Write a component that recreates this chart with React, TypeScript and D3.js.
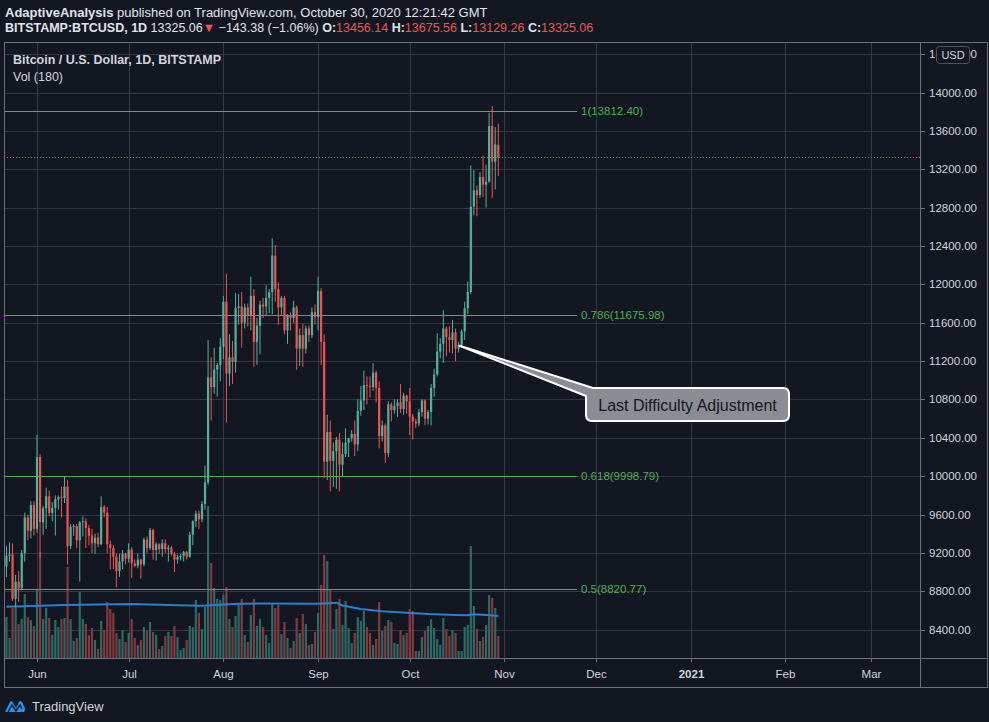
import React from "react";
import * as d3 from "d3";

// ---------- DATA ----------
const startDate = "2020-05-22"; // first daily candle
// [open, high, low, close]
const ohlc: [number, number, number, number][] = [
  [9060, 9270, 8950, 9170], [9170, 9310, 9110, 9185], [9185, 9300, 8700, 8720], [8720, 8970, 8630, 8900],
  [8900, 9010, 8690, 8830], [8830, 9230, 8810, 9200], [9200, 9620, 9110, 9570], [9570, 9600, 9330, 9430],
  [9430, 9740, 9350, 9700], [9700, 9740, 9380, 9450],
  // Jun
  [9450, 10430, 9410, 10200], [10200, 10230, 9150, 9520], [9520, 9690, 9390, 9665], [9665, 9880, 9450, 9790],
  [9790, 9850, 9580, 9615], [9615, 9730, 9530, 9670], [9670, 9800, 9380, 9760], [9760, 9800, 9650, 9780],
  [9780, 9890, 9570, 9770], [9770, 10000, 9720, 9890], [9890, 9960, 9080, 9270], [9270, 9500, 9240, 9470],
  [9470, 9500, 9380, 9480], [9480, 9500, 9250, 9330], [9330, 9530, 8900, 9520], [9520, 9580, 9370, 9530],
  [9530, 9560, 9250, 9460], [9460, 9490, 9280, 9380], [9380, 9450, 9200, 9300], [9300, 9400, 9190, 9360],
  [9360, 9410, 9260, 9290], [9290, 9790, 9280, 9680], [9680, 9700, 9570, 9620], [9620, 9680, 9200, 9290],
  [9290, 9330, 9030, 9250], [9250, 9280, 9030, 9160], [9160, 9190, 8840, 9010], [9010, 9190, 8950, 9110],
  [9110, 9230, 9030, 9190], [9190, 9200, 9080, 9140],
  // Jul
  [9140, 9300, 9100, 9235], [9235, 9260, 8940, 9090], [9090, 9130, 9050, 9065], [9065, 9190, 9040, 9130],
  [9130, 9140, 8930, 9080], [9080, 9360, 9060, 9340], [9340, 9370, 9200, 9250], [9250, 9460, 9230, 9440],
  [9440, 9450, 9130, 9230], [9230, 9310, 9120, 9290], [9290, 9300, 9190, 9240], [9240, 9340, 9160, 9300],
  [9300, 9340, 9200, 9240], [9240, 9280, 9110, 9255], [9255, 9270, 9170, 9190], [9190, 9210, 9000, 9130],
  [9130, 9180, 9090, 9155], [9155, 9190, 9120, 9170], [9170, 9220, 9110, 9210], [9210, 9220, 9130, 9160],
  [9160, 9420, 9150, 9390], [9390, 9540, 9280, 9530], [9530, 9640, 9470, 9610], [9610, 9640, 9450, 9550],
  [9550, 9740, 9520, 9710], [9710, 10110, 9650, 9935], [9935, 11420, 9910, 11030], [11030, 11240, 10580, 10930],
  [10930, 11340, 10860, 11110], [11110, 11180, 10830, 11160], [11160, 11440, 10990, 11350],
  // Aug
  [11350, 11880, 11220, 11820], [11820, 12110, 10560, 11070], [11070, 11480, 10940, 11240], [11240, 11410, 10960, 11190],
  [11190, 11910, 11080, 11755], [11755, 11900, 11580, 11770], [11770, 11920, 11340, 11600], [11600, 11800, 11540, 11760],
  [11760, 11800, 11560, 11680], [11680, 12080, 11520, 11880], [11880, 11950, 11140, 11400], [11400, 11650, 11160, 11570],
  [11570, 11830, 11270, 11790], [11790, 11860, 11650, 11770], [11770, 11990, 11670, 11860], [11860, 11950, 11700, 11920],
  [11920, 12480, 11690, 12300], [12300, 12410, 11820, 11950], [11950, 12020, 11580, 11760], [11760, 11880, 11680, 11860],
  [11860, 11880, 11480, 11520], [11520, 11690, 11380, 11680], [11680, 11710, 11520, 11650], [11650, 11830, 11600, 11760],
  [11760, 11780, 11110, 11330], [11330, 11540, 11150, 11470], [11470, 11590, 11140, 11330], [11330, 11570, 11280, 11540],
  [11540, 11570, 11400, 11470], [11470, 11760, 11440, 11710], [11710, 11790, 11580, 11660],
  // Sep
  [11660, 12080, 11520, 11930], [11930, 11960, 11160, 11400], [11400, 11480, 9980, 10150], [10150, 10640, 9960, 10460],
  [10460, 10580, 9840, 10160], [10160, 10350, 9890, 10260], [10260, 10410, 9870, 10380], [10380, 10450, 9840, 10120],
  [10120, 10350, 10000, 10230], [10230, 10500, 10200, 10350], [10350, 10400, 10200, 10395], [10395, 10480, 10360, 10440],
  [10440, 10580, 10210, 10330], [10330, 10800, 10260, 10680], [10680, 10940, 10630, 10790], [10790, 11100, 10690, 10950],
  [10950, 11040, 10750, 10940], [10940, 11040, 10820, 10930], [10930, 11180, 10890, 11080], [11080, 11100, 10770, 10920],
  [10920, 10990, 10290, 10420], [10420, 10580, 10360, 10530], [10530, 10550, 10140, 10240], [10240, 10780, 10200, 10750],
  [10750, 10770, 10570, 10690], [10690, 10800, 10650, 10730], [10730, 10800, 10620, 10770], [10770, 10960, 10660, 10700],
  [10700, 10870, 10640, 10840], [10840, 10850, 10650, 10780],
  // Oct
  [10780, 10920, 10430, 10620], [10620, 10650, 10380, 10570], [10570, 10600, 10500, 10550], [10550, 10700, 10520, 10670],
  [10670, 10800, 10620, 10790], [10790, 10800, 10530, 10600], [10600, 10690, 10540, 10670], [10670, 10960, 10530, 10920],
  [10920, 11120, 10830, 11060], [11060, 11490, 11040, 11300], [11300, 11440, 11230, 11380], [11380, 11730, 11180, 11540],
  [11540, 11560, 11250, 11450], [11450, 11560, 11290, 11420], [11420, 11630, 11280, 11500], [11500, 11540, 11200, 11330],
  [11330, 11400, 11290, 11370], [11370, 11530, 11340, 11510], [11510, 11820, 11420, 11750], [11750, 12030, 11690, 11920],
  [11920, 13240, 11900, 12810], [12810, 13190, 12720, 12980], [12980, 13030, 12710, 12930], [12930, 13170, 12900, 13120],
  [13120, 13340, 12910, 13040], [13040, 13250, 12800, 13070], [13070, 13790, 13060, 13650], [13650, 13860, 12900, 13280],
  [13280, 13640, 12990, 13460], [13456.14, 13675.56, 13129.26, 13325.06],
];
// daily volume (BTC)
const volumes: number[] = [
  4100, 2000, 5000, 5000, 3400, 3900, 6400, 4100, 3800, 3200,
  6900, 10600, 3900, 5000, 4000, 2300, 3800, 3100, 3900, 4000, 9100, 3900, 1700, 2000, 6600, 3900, 3400, 2300, 3000, 1800,
  900, 3700, 2800, 5600, 4900, 4500, 2500, 1900, 2800, 1600,
  2500, 3900, 2000, 1300, 1800, 3100, 2700, 3600, 2600, 2300, 900, 1200, 2200, 2600, 2200, 3200, 2100, 800, 1000, 1800,
  3200, 3100, 5800, 4500, 2900, 5100, 15200, 9500, 7000, 5900, 5800,
  6300, 7100, 3900, 3100, 4200, 5400, 5900, 2300, 1600, 4300, 5900, 3200, 3900, 3100, 2300, 1500, 5500, 5000, 5300, 2400,
  3600, 2000, 1000, 1700, 4000, 2500, 4400, 3400, 1300, 1400, 2600,
  4500, 7300, 10300, 9700, 6800, 2900, 4900, 5900, 3300, 5700, 3000, 1500, 2500, 4100, 3700, 4700, 3100, 2500, 1300, 1900,
  5600, 2700, 3200, 3800, 3600, 1500, 1400, 2800, 2300, 2500,
  4900, 4700, 700, 700, 2100, 2700, 3200, 3900, 3000, 1900, 1300, 4000, 2900, 2200, 2800, 2500, 700, 700, 3100, 3300,
  11200, 5200, 2900, 1700, 2100, 3300, 6300, 6000, 5000, 2200,
];
// Volume moving average (180), sampled
const volMaDates = ["2020-05-22", "2020-06-10", "2020-07-02", "2020-07-14", "2020-07-25", "2020-08-04", "2020-08-13",
  "2020-09-01", "2020-09-07", "2020-09-09", "2020-09-15", "2020-09-22", "2020-09-30", "2020-10-07", "2020-10-16",
  "2020-10-20", "2020-10-22", "2020-10-26", "2020-10-30"];
const volMaValues = [5130, 5300, 5400, 5300, 5230, 5400, 5450, 5430, 5530, 5250, 4900, 4670, 4530, 4400, 4300,
  4270, 4370, 4300, 4200];

const priceTicks = [8400, 8800, 9200, 9600, 10000, 10400, 10800, 11200, 11600, 12000, 12400, 12800, 13200, 13600, 14000, 14400];
const monthTicks = ["2020-06-01", "2020-07-01", "2020-08-01", "2020-09-01", "2020-10-01", "2020-11-01", "2020-12-01",
  "2021-01-01", "2021-02-01", "2021-03-01"];
const monthLabels = ["Jun", "Jul", "Aug", "Sep", "Oct", "Nov", "Dec", "2021", "Feb", "Mar"];
const fibLevels = [1, 0.786, 0.618, 0.5];
const fibPrices = [13812.4, 11675.98, 9998.79, 8820.77];
const lastPrice = 13325.06;

// ---------- LAYOUT ----------
const W = 989, H = 722;
const L = 4, R = 920, T = 42, B = 658, AX_B = 687, RR = 987;
const UP = "#53b09c", DOWN = "#ef5350";
const VUP = "#2c6a63", VDOWN = "#833a3e";
const GRID = "#343846";
const FRAME = "#6d707a";
const TXT = "#d1d4dc";
const FONT = "'Liberation Sans', Arial, sans-serif";

const parse = d3.utcParse("%Y-%m-%d");

export default function App() {
  const x = d3.scaleUtc().domain([parse("2020-06-01")!, parse("2021-03-01")!]).range([37, 37 + 273 * 3.055]);
  const y = d3.scaleLinear().domain([8400, 14000]).range([629.6, 92.6]);
  const vy = d3.scaleLinear().domain([0, 16000]).range([B, B - 160]);
  const d0 = parse(startDate)!;
  const days = ohlc.map((_, i) => d3.utcDay.offset(d0, i));
  const bw = 2.2;

  const maLine = d3.line<number>()
    .x((_, i) => x(parse(volMaDates[i])!))
    .y((v) => vy(v));

  const calloutAnchor = { x: x(d3.utcDay.offset(d0, 149)) - 2, y: y(11360) };
  const box = { x0: 586, x1: 789, y0: 388, y1: 421, r: 6 };
  const calloutPath =
    `M${calloutAnchor.x},${calloutAnchor.y} L${box.x0 + 7},${box.y0} L${box.x1 - box.r},${box.y0} ` +
    `Q${box.x1},${box.y0} ${box.x1},${box.y0 + box.r} L${box.x1},${box.y1 - box.r} ` +
    `Q${box.x1},${box.y1} ${box.x1 - box.r},${box.y1} L${box.x0 + box.r},${box.y1} ` +
    `Q${box.x0},${box.y1} ${box.x0},${box.y1 - box.r} L${box.x0},${box.y0 + 8} Z`;

  return (
    <svg width={W} height={H} style={{ position: "fixed", left: 0, top: 0 }} fontFamily={FONT}>
      <rect x={0} y={0} width={W} height={H} fill="#131722" />
      {/* header */}
      <text x={5} y={17} fontSize={13} fill="#e0e3eb">
        <tspan fontWeight="bold">AdaptiveAnalysis</tspan>
        <tspan> published on TradingView.com, October 30, 2020 12:21:42 GMT</tspan>
      </text>
      <text x={5} y={32} fontSize={12.5} fill="#e0e3eb">
        <tspan fontWeight="bold">BITSTAMP:BTCUSD, 1D</tspan>
        <tspan> 13325.06</tspan>
        <tspan fill={DOWN}>▼</tspan>
        <tspan> −143.38 (−1.06%) </tspan>
        <tspan fontWeight="bold">O:</tspan><tspan fill={DOWN}>13456.14</tspan>
        <tspan fontWeight="bold"> H:</tspan><tspan fill={DOWN}>13675.56</tspan>
        <tspan fontWeight="bold"> L:</tspan><tspan fill={DOWN}>13129.26</tspan>
        <tspan fontWeight="bold"> C:</tspan><tspan fill={DOWN}>13325.06</tspan>
      </text>

      {/* grid */}
      <g>
        {priceTicks.map((p) => (
          <line key={p} x1={L} x2={R} y1={Math.round(y(p)) + 0.5} y2={Math.round(y(p)) + 0.5} stroke={GRID} />
        ))}
        {monthTicks.map((m) => {
          const xx = Math.round(x(parse(m)!)) + 0.5;
          return <line key={m} x1={xx} x2={xx} y1={T} y2={B} stroke={GRID} />;
        })}
      </g>

      {/* volume */}
      <g>
        {volumes.map((v, i) => {
          const [o, , , c] = ohlc[i];
          const xx = x(days[i]);
          return <rect key={i} x={xx - bw / 2} width={bw} y={vy(v)} height={B - vy(v)} fill={c >= o ? VUP : VDOWN} />;
        })}
        <path d={maLine(volMaValues) || ""} fill="none" stroke="#2a7fd0" strokeWidth={2} />
      </g>

      {/* fib levels */}
      <g>
        {fibPrices.map((p, i) => (
          <g key={p}>
            <line x1={L} x2={577} y1={Math.round(y(p)) + 0.5} y2={Math.round(y(p)) + 0.5} stroke="#4caf50" />
            <text x={581} y={y(p) + 4} fontSize={11.5} fill="#4caf50">{`${fibLevels[i]}(${p.toFixed(2)})`}</text>
          </g>
        ))}
      </g>

      {/* candles */}
      <g>
        {ohlc.map(([o, h, l, c], i) => {
          const xx = x(days[i]);
          const col = c >= o ? UP : DOWN;
          const top = y(Math.max(o, c));
          const bot = y(Math.min(o, c));
          return (
            <g key={i}>
              <line x1={xx} x2={xx} y1={y(h)} y2={y(l)} stroke={col} strokeWidth={1} />
              <rect x={xx - bw / 2} width={bw} y={top} height={Math.max(1, bot - top)} fill={col} />
            </g>
          );
        })}
      </g>

      {/* last price line */}
      <line x1={L} x2={R} y1={Math.round(y(lastPrice)) + 0.5} y2={Math.round(y(lastPrice)) + 0.5}
        stroke={DOWN} strokeDasharray="1 2" />

      {/* callout */}
      <path d={calloutPath} fill="#8a8d94" stroke="#ffffff" strokeWidth={2} strokeLinejoin="round" />
      <text x={(box.x0 + box.x1) / 2} y={411} fontSize={16} textAnchor="middle" fill="#131722">Last Difficulty Adjustment</text>

      {/* legend */}
      <text x={13} y={64} fontSize={12.5} fill={TXT} fontWeight="bold">Bitcoin / U.S. Dollar, 1D, BITSTAMP</text>
      <text x={13} y={81} fontSize={12.5} fill={TXT}>Vol (180)</text>

      {/* price axis */}
      <rect x={R + 0.5} y={T} width={RR - R} height={B - T} fill="#131722" />
      <g>
        {priceTicks.map((p) => (
          <g key={p}>
            <line x1={R} x2={R + 5} y1={Math.round(y(p)) + 0.5} y2={Math.round(y(p)) + 0.5} stroke={FRAME} />
            <text x={929} y={y(p) + 4} fontSize={11.5} fill={TXT}>{p.toFixed(2)}</text>
          </g>
        ))}
      </g>
      <rect x={936.5} y={46.5} width={33} height={17} rx={3} fill="#131722" stroke="#4f525c" />
      <text x={953} y={59} fontSize={11} textAnchor="middle" fill={TXT}>USD</text>

      {/* time axis */}
      <g>
        {monthTicks.map((m, i) => {
          const xx = Math.round(x(parse(m)!)) + 0.5;
          return (
            <g key={m}>
              <line x1={xx} x2={xx} y1={B} y2={B + 4} stroke={FRAME} />
              <text x={xx} y={678} fontSize={11.5} textAnchor="middle" fill={TXT}
                fontWeight={monthLabels[i] === "2021" ? "bold" : "normal"}>{monthLabels[i]}</text>
            </g>
          );
        })}
      </g>

      {/* frame */}
      <g fill="none" stroke={FRAME}>
        <rect x={L + 0.5} y={T + 0.5} width={RR - L} height={AX_B - T} />
        <line x1={L} x2={RR} y1={B + 0.5} y2={B + 0.5} />
        <line x1={R + 0.5} x2={R + 0.5} y1={T} y2={AX_B} />
      </g>

      {/* TradingView logo */}
      <g transform="translate(5,698)">
        <path d="M0,14 L5,4 Q6,2 7.5,4 L11,10 L14,4 Q15.5,2 17,4 L19,8 Q21,11 19,14 Z" fill="#2196f3" />
        <path d="M3,14 L7,7 L11,13 L15,7 L17,11" fill="none" stroke="#131722" strokeWidth={1.4} />
      </g>
      <text x={32} y={711} fontSize={13} fill={TXT}>TradingView</text>
    </svg>
  );
}
